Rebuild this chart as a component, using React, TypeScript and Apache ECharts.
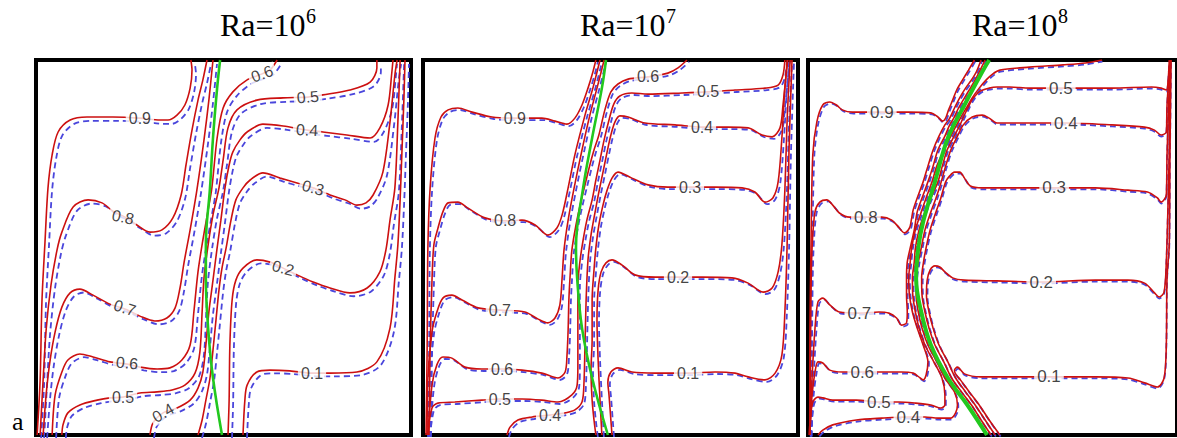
import React, { useEffect, useRef } from "react";
import * as echarts from "echarts";

type Pt = [number, number];
type Lbl = [number, number, string, number];

// ---------- Ra = 10^6 (dimensionless position x, y in the cavity) ----------
const ra6_t09: Pt[] = [[.003,0],[.011,.147],[.016,.36],[.024,.515],[.032,.659],[.043,.747],[.059,.808],[.091,.84],[.136,.848],[.205,.848],[.277,.845],[.331,.84],[.352,.84],[.376,.853],[.397,.88],[.411,.925],[.416,.973],[.413,1]];
const ra6_t08: Pt[] = [[.011,0],[.019,.147],[.027,.28],[.04,.4],[.056,.493],[.069,.541],[.099,.608],[.139,.627],[.176,.619],[.205,.597],[.237,.581],[.269,.56],[.304,.541],[.336,.547],[.365,.579],[.387,.64],[.4,.72],[.416,.813],[.432,.893],[.445,.947],[.456,1]];
const ra6_t07: Pt[] = [[.019,0],[.027,.107],[.037,.195],[.051,.275],[.069,.341],[.091,.379],[.117,.389],[.152,.373],[.197,.349],[.237,.336],[.277,.317],[.317,.304],[.349,.312],[.371,.339],[.384,.392],[.395,.461],[.411,.547],[.429,.653],[.448,.787],[.461,.893],[.472,1]];
const ra6_t06: Pt[] = [[.043,0],[.051,.107],[.069,.168],[.085,.2],[.117,.216],[.152,.208],[.197,.195],[.243,.189],[.277,.181],[.323,.176],[.357,.179],[.389,.2],[.411,.24],[.421,.328],[.432,.435],[.445,.52],[.459,.6],[.469,.659],[.483,.792],[.499,.872],[.525,.915],[.563,.947],[.603,.963],[.624,.973],[.643,1]];
const ra6_t05: Pt[] = [[.069,0],[.072,.027],[.085,.059],[.117,.08],[.163,.093],[.197,.099],[.232,.101],[.277,.112],[.323,.115],[.363,.12],[.397,.133],[.424,.165],[.437,.221],[.443,.328],[.448,.419],[.459,.507],[.472,.587],[.488,.659],[.499,.733],[.512,.819],[.536,.867],[.589,.893],[.659,.899],[.725,.901],[.765,.907],[.837,.92],[.891,.941],[.909,.979],[.909,1]];
const ra6_t04: Pt[] = [[.304,0],[.312,.032],[.339,.059],[.376,.072],[.411,.093],[.432,.125],[.445,.168],[.453,.24],[.461,.328],[.472,.413],[.483,.499],[.493,.573],[.504,.659],[.515,.72],[.525,.755],[.544,.787],[.563,.808],[.605,.829],[.659,.824],[.723,.813],[.765,.808],[.829,.8],[.891,.792],[.917,.819],[.939,.88],[.949,.968],[.952,1]];
const ra6_t03: Pt[] = [[.432,0],[.443,.04],[.453,.093],[.464,.152],[.472,.227],[.48,.307],[.488,.387],[.496,.445],[.507,.499],[.52,.573],[.533,.627],[.552,.659],[.571,.68],[.605,.699],[.651,.685],[.696,.672],[.739,.659],[.784,.64],[.824,.627],[.856,.613],[.88,.619],[.899,.64],[.925,.701],[.944,.835],[.957,.96],[.963,1]];
const ra6_t02: Pt[] = [[.512,0],[.515,.093],[.517,.24],[.523,.36],[.533,.413],[.552,.445],[.589,.467],[.624,.461],[.659,.445],[.696,.427],[.739,.408],[.784,.392],[.837,.379],[.883,.392],[.917,.435],[.933,.493],[.944,.573],[.957,.659],[.965,.835],[.971,1]];
const ra6_t01: Pt[] = [[.552,0],[.557,.093],[.563,.133],[.589,.168],[.624,.173],[.677,.171],[.736,.165],[.784,.165],[.856,.168],[.909,.195],[.944,.285],[.957,.419],[.965,.507],[.971,.627],[.976,.76],[.981,.893],[.984,1]];
const ra6_interface: Pt[] = [[.491,1],[.483,.925],[.472,.792],[.464,.659],[.453,.507],[.453,.419],[.459,.285],[.472,.152],[.496,0]];
const ra6_labels: Lbl[] = [[.277,.845,"0.9",0],[.232,.581,"0.8",-12],[.237,.339,"0.7",-18],[.243,.192,"0.6",-5],[.232,.101,"0.5",0],[.339,.059,"0.4",30],[.603,.963,"0.6",20],[.725,.901,"0.5",5],[.723,.813,"0.4",-3],[.739,.659,"0.3",-15],[.659,.445,"0.2",-15],[.736,.165,"0.1",0]];

// ---------- Ra = 10^7 ----------
const ra7_t09: Pt[] = [[.008,0],[.011,.227],[.013,.499],[.019,.659],[.032,.792],[.048,.848],[.067,.867],[.093,.872],[.131,.861],[.184,.848],[.245,.845],[.317,.845],[.352,.837],[.384,.829],[.405,.845],[.424,.88],[.44,.925],[.453,.968],[.461,1]];
const ra7_t08: Pt[] = [[.016,0],[.019,.227],[.024,.413],[.029,.507],[.04,.552],[.053,.595],[.067,.619],[.093,.621],[.12,.605],[.165,.579],[.219,.571],[.264,.573],[.299,.56],[.333,.533],[.357,.552],[.371,.587],[.387,.659],[.405,.747],[.432,.853],[.453,.925],[.472,1]];
const ra7_t07: Pt[] = [[.011,0],[.013,.152],[.024,.275],[.037,.328],[.053,.365],[.077,.373],[.104,.36],[.147,.339],[.205,.333],[.272,.328],[.307,.309],[.333,.299],[.352,.312],[.365,.347],[.371,.419],[.376,.493],[.387,.573],[.403,.659],[.424,.76],[.445,.853],[.464,.925],[.475,.968],[.483,1]];
const ra7_t06: Pt[] = [[.013,0],[.024,.133],[.037,.187],[.053,.208],[.077,.205],[.112,.181],[.157,.176],[.211,.176],[.264,.173],[.317,.165],[.36,.152],[.379,.168],[.384,.213],[.387,.28],[.389,.36],[.392,.419],[.397,.493],[.408,.56],[.419,.613],[.432,.667],[.445,.72],[.456,.76],[.469,.8],[.485,.867],[.501,.915],[.52,.936],[.547,.949],[.6,.955],[.653,.965],[.68,.979],[.704,1]];
const ra7_t05: Pt[] = [[.013,0],[.024,.072],[.04,.085],[.085,.088],[.157,.093],[.205,.096],[.264,.096],[.317,.093],[.36,.088],[.397,.107],[.411,.133],[.413,.187],[.413,.253],[.413,.333],[.413,.4],[.419,.467],[.427,.52],[.437,.573],[.451,.627],[.461,.68],[.472,.733],[.483,.787],[.496,.84],[.509,.883],[.525,.904],[.557,.912],[.6,.909],[.691,.912],[.76,.915],[.832,.92],[.912,.925],[.947,.933],[.96,.96],[.965,1]];
const ra7_t04: Pt[] = [[.224,0],[.232,.021],[.253,.04],[.291,.048],[.339,.053],[.379,.059],[.405,.067],[.424,.088],[.429,.133],[.432,.24],[.435,.36],[.44,.467],[.448,.533],[.459,.595],[.469,.648],[.48,.701],[.491,.755],[.501,.8],[.512,.835],[.525,.851],[.547,.848],[.592,.832],[.672,.827],[.744,.821],[.813,.821],[.867,.819],[.904,.8],[.931,.795],[.952,.819],[.96,.88],[.968,.96],[.971,1]];
const ra7_t03: Pt[] = [[.461,0],[.456,.04],[.451,.093],[.448,.173],[.451,.253],[.451,.36],[.456,.44],[.461,.499],[.469,.56],[.48,.613],[.491,.653],[.504,.685],[.52,.701],[.557,.685],[.6,.667],[.653,.661],[.712,.661],[.779,.661],[.851,.659],[.885,.648],[.912,.621],[.933,.632],[.947,.675],[.957,.792],[.965,.925],[.973,1]];
const ra7_t02: Pt[] = [[.477,0],[.472,.093],[.467,.2],[.464,.307],[.467,.387],[.475,.435],[.488,.459],[.504,.467],[.531,.453],[.565,.427],[.619,.421],[.68,.421],[.744,.421],[.824,.419],[.867,.405],[.907,.381],[.931,.392],[.947,.435],[.957,.507],[.965,.653],[.971,.84],[.979,1]];
const ra7_t01: Pt[] = [[.504,0],[.501,.04],[.496,.107],[.493,.141],[.501,.168],[.52,.179],[.557,.168],[.619,.165],[.707,.165],[.779,.168],[.832,.165],[.867,.155],[.912,.147],[.939,.165],[.957,.213],[.965,.328],[.971,.507],[.976,.76],[.984,1]];
const ra7_interface: Pt[] = [[.488,1],[.477,.925],[.451,.792],[.427,.659],[.408,.501],[.411,.419],[.424,.285],[.451,.152],[.493,0]];
const ra7_labels: Lbl[] = [[.245,.845,"0.9",0],[.219,.571,"0.8",0],[.205,.333,"0.7",0],[.211,.176,"0.6",0],[.205,.096,"0.5",0],[.339,.053,"0.4",0],[.6,.955,"0.6",0],[.76,.915,"0.5",0],[.744,.821,"0.4",0],[.712,.661,"0.3",0],[.68,.421,"0.2",0],[.707,.165,"0.1",0]];

// ---------- Ra = 10^8 ----------
const ra8_t09: Pt[] = [[.005,0],[.005,.227],[.008,.493],[.013,.747],[.024,.835],[.04,.88],[.059,.888],[.077,.88],[.093,.867],[.12,.861],[.2,.861],[.272,.861],[.333,.859],[.352,.848],[.365,.837],[.373,.845],[.381,.867],[.392,.893],[.403,.92],[.419,.947],[.435,.973],[.451,1]];
const ra8_t08: Pt[] = [[.005,0],[.008,.36],[.011,.499],[.019,.595],[.032,.621],[.051,.627],[.067,.613],[.085,.592],[.112,.581],[.157,.581],[.2,.581],[.227,.573],[.245,.555],[.261,.539],[.275,.552],[.28,.573],[.285,.6],[.296,.632],[.312,.675],[.325,.717],[.339,.76],[.355,.797],[.371,.827],[.384,.845],[.397,.872],[.411,.899],[.427,.925],[.443,.947],[.456,.968],[.469,1]];
const ra8_t07: Pt[] = [[.005,0],[.011,.152],[.019,.285],[.027,.355],[.04,.365],[.059,.347],[.085,.328],[.139,.325],[.192,.328],[.219,.325],[.24,.312],[.253,.293],[.267,.299],[.269,.328],[.267,.373],[.267,.419],[.269,.461],[.277,.499],[.288,.547],[.296,.595],[.309,.632],[.325,.675],[.339,.717],[.352,.76],[.371,.797],[.384,.827],[.395,.845],[.408,.872],[.424,.899],[.44,.925],[.453,.947],[.464,.968],[.48,1]];
const ra8_t06: Pt[] = [[.005,0],[.011,.107],[.019,.168],[.027,.195],[.04,.192],[.059,.173],[.093,.168],[.147,.168],[.211,.168],[.253,.168],[.285,.165],[.304,.152],[.312,.147],[.32,.16],[.325,.195],[.312,.24],[.296,.285],[.283,.328],[.275,.373],[.273,.419],[.277,.461],[.281,.499],[.291,.547],[.307,.595],[.32,.632],[.336,.675],[.349,.717],[.368,.76],[.387,.797],[.403,.827],[.413,.845],[.429,.872],[.445,.899],[.464,.925],[.483,.947],[.501,.963],[.52,.973],[.6,.981],[.691,.987],[.752,.992],[.797,1]];
const ra8_t05: Pt[] = [[.003,0],[.005,.027],[.013,.088],[.027,.101],[.04,.099],[.067,.093],[.131,.093],[.192,.088],[.245,.088],[.291,.085],[.333,.08],[.36,.072],[.371,.08],[.371,.107],[.363,.152],[.341,.195],[.317,.24],[.301,.285],[.291,.328],[.284,.373],[.283,.419],[.288,.461],[.291,.499],[.301,.547],[.317,.595],[.333,.632],[.352,.675],[.364,.717],[.377,.76],[.396,.797],[.412,.827],[.42,.845],[.433,.872],[.448,.899],[.467,.917],[.491,.925],[.512,.928],[.547,.928],[.6,.925],[.685,.925],[.824,.925],[.931,.928],[.957,.925],[.971,.92],[.976,.947],[.979,1]];
const ra8_t04: Pt[] = [[.027,0],[.04,.013],[.067,.027],[.131,.04],[.2,.045],[.272,.048],[.317,.048],[.352,.045],[.387,.045],[.4,.059],[.405,.08],[.397,.115],[.371,.152],[.349,.195],[.325,.24],[.309,.285],[.299,.328],[.293,.373],[.293,.419],[.299,.461],[.307,.499],[.317,.547],[.333,.595],[.347,.632],[.361,.675],[.373,.717],[.387,.76],[.405,.797],[.421,.827],[.445,.848],[.472,.853],[.491,.845],[.512,.832],[.592,.832],[.699,.832],[.824,.827],[.912,.821],[.939,.813],[.957,.8],[.971,.808],[.973,.88],[.979,.968],[.981,1]];
const ra8_t03: Pt[] = [[.496,0],[.469,.04],[.443,.08],[.416,.115],[.389,.152],[.368,.195],[.344,.24],[.328,.285],[.317,.328],[.309,.373],[.308,.419],[.313,.461],[.32,.499],[.331,.547],[.347,.595],[.36,.632],[.373,.675],[.384,.691],[.397,.701],[.411,.701],[.424,.685],[.44,.664],[.472,.659],[.512,.659],[.667,.659],[.779,.659],[.867,.653],[.92,.648],[.947,.632],[.957,.621],[.971,.64],[.973,.747],[.979,.925],[.981,1]];
const ra8_t02: Pt[] = [[.507,0],[.48,.04],[.453,.08],[.427,.115],[.4,.152],[.379,.195],[.355,.24],[.339,.285],[.328,.328],[.321,.373],[.323,.413],[.331,.44],[.344,.451],[.357,.448],[.371,.435],[.392,.419],[.424,.413],[.512,.411],[.632,.408],[.779,.413],[.867,.413],[.912,.405],[.939,.379],[.952,.368],[.965,.381],[.971,.461],[.976,.627],[.979,.76],[.981,1]];
const ra8_t01: Pt[] = [[.52,0],[.491,.04],[.464,.08],[.437,.115],[.413,.147],[.4,.163],[.397,.173],[.405,.181],[.424,.163],[.467,.155],[.512,.155],[.653,.155],[.779,.155],[.867,.152],[.912,.139],[.947,.128],[.965,.152],[.971,.24],[.973,.419],[.979,.507],[.981,.76],[.984,1]];
const ra8_interface: Pt[] = [[.491,1],[.472,.968],[.424,.88],[.379,.792],[.344,.675],[.312,.568],[.299,.499],[.293,.419],[.307,.328],[.333,.24],[.379,.152],[.432,.08],[.485,0]];
const ra8_labels: Lbl[] = [[.2,.861,"0.9",0],[.157,.581,"0.8",0],[.139,.325,"0.7",0],[.147,.168,"0.6",0],[.192,.088,"0.5",0],[.272,.048,"0.4",0],[.685,.925,"0.5",0],[.699,.832,"0.4",0],[.667,.659,"0.3",0],[.632,.408,"0.2",0],[.653,.155,"0.1",0]];

const RA_EXPONENTS = ["6", "7", "8"];

// ---------- layout / style (not data) ----------
const PANEL_LEFT = [36, 423, 808];
const PANEL_TOP = 60;
const PANEL_SIZE = 375;
const DASH_SHIFT = [4, 2, 1.5];
const LABEL_FONT = [16, 16, 17];
const TITLE_X = [220, 580, 972];
const RED = "#cc1010";
const BLUE = "#4a46dc";
const GREEN = "#22c81e";

const PANELS = [
  { contours: [ra6_t09, ra6_t08, ra6_t07, ra6_t06, ra6_t05, ra6_t04, ra6_t03, ra6_t02, ra6_t01], iface: ra6_interface, labels: ra6_labels },
  { contours: [ra7_t09, ra7_t08, ra7_t07, ra7_t06, ra7_t05, ra7_t04, ra7_t03, ra7_t02, ra7_t01], iface: ra7_interface, labels: ra7_labels },
  { contours: [ra8_t09, ra8_t08, ra8_t07, ra8_t06, ra8_t05, ra8_t04, ra8_t03, ra8_t02, ra8_t01], iface: ra8_interface, labels: ra8_labels },
];

function buildOption() {
  const grid: any[] = [];
  const xAxis: any[] = [];
  const yAxis: any[] = [];
  const series: any[] = [];
  const graphic: any[] = [];

  PANELS.forEach((p, i) => {
    const main = i * 2;
    const dash = i * 2 + 1;
    grid.push({ left: PANEL_LEFT[i], top: PANEL_TOP, width: PANEL_SIZE, height: PANEL_SIZE, show: true, borderColor: "#000", borderWidth: 4, backgroundColor: "#fff", z: 0 });
    grid.push({ left: PANEL_LEFT[i] + DASH_SHIFT[i], top: PANEL_TOP + DASH_SHIFT[i], width: PANEL_SIZE, height: PANEL_SIZE, show: false });
    [main, dash].forEach((g) => {
      xAxis.push({ type: "value", gridIndex: g, min: 0, max: 1, show: false });
      yAxis.push({ type: "value", gridIndex: g, min: 0, max: 1, show: false });
    });

    p.contours.forEach((c) => {
      series.push({
        type: "line", xAxisIndex: dash, yAxisIndex: dash, data: c, showSymbol: false, symbol: "none",
        smooth: 0.3, silent: true, z: 2,
        lineStyle: { color: BLUE, width: 1.8, type: [6, 4] },
      });
    });
    p.contours.forEach((c) => {
      series.push({
        type: "line", xAxisIndex: main, yAxisIndex: main, data: c, showSymbol: false, symbol: "none",
        smooth: 0.3, silent: true, z: 3,
        lineStyle: { color: RED, width: 1.6 },
      });
    });
    series.push({
      type: "line", xAxisIndex: main, yAxisIndex: main, data: p.iface, showSymbol: false, symbol: "none",
      smooth: 0.4, silent: true, z: 4,
      lineStyle: { color: GREEN, width: i === 2 ? 4 : 2.6 },
    });
    series.push({
      type: "scatter", xAxisIndex: main, yAxisIndex: main, silent: true, z: 6,
      symbolSize: 1, itemStyle: { color: "rgba(0,0,0,0)" },
      data: p.labels.map(([u, v, t, r]) => ({ value: [u, v], name: t, label: { rotate: r } })),
      label: {
        show: true, position: "inside", formatter: "{b}", color: "#111",
        fontSize: LABEL_FONT[i], fontFamily: '"Liberation Sans", Arial, sans-serif',
        backgroundColor: "#fff", padding: [0, 3],
      },
    });

    graphic.push({
      type: "text", x: TITLE_X[i], y: 25, z: 100,
      style: { text: "Ra=10", font: '32px "Liberation Serif", "Times New Roman", serif', fill: "#000", textAlign: "left", textVerticalAlign: "middle", align: "left", verticalAlign: "middle" },
    });
    graphic.push({
      type: "text", x: TITLE_X[i] + 86, y: 16, z: 100,
      style: { text: RA_EXPONENTS[i], font: '20px "Liberation Serif", "Times New Roman", serif', fill: "#000", textAlign: "left", textVerticalAlign: "middle", align: "left", verticalAlign: "middle" },
    });
  });

  graphic.push({
    type: "text", x: 12, y: 421, z: 100,
    style: { text: "a", font: '26px "Liberation Serif", "Times New Roman", serif', fill: "#000", textAlign: "left", textVerticalAlign: "middle", align: "left", verticalAlign: "middle" },
  });

  return { animation: false, backgroundColor: "#fff", grid, xAxis, yAxis, series, graphic };
}

export default function App() {
  const ref = useRef<HTMLDivElement>(null);
  useEffect(() => {
    if (!ref.current) return;
    const chart = echarts.init(ref.current, undefined, { renderer: "svg" });
    chart.setOption(buildOption() as any);
    return () => chart.dispose();
  }, []);
  return (
    <div
      ref={ref}
      style={{ position: "absolute", left: 0, top: 0, width: 1177, height: 438, background: "#fff" }}
    />
  );
}
